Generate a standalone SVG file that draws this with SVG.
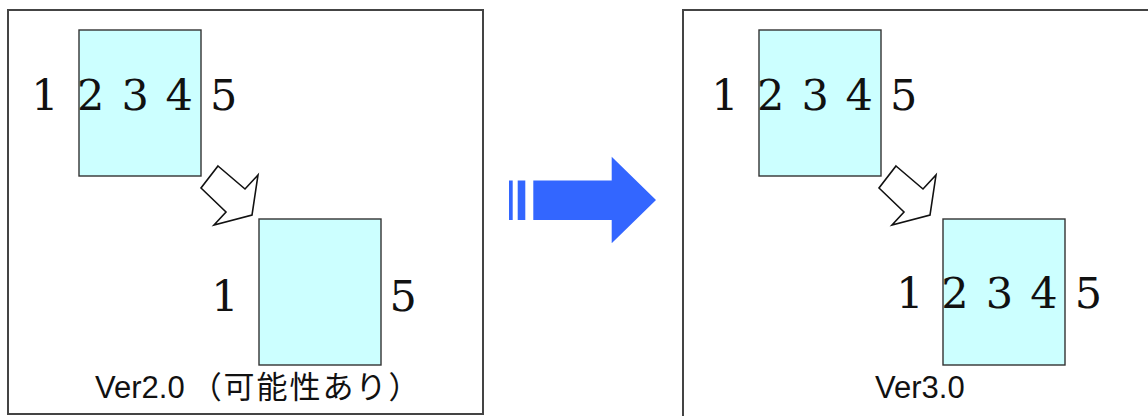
<svg xmlns="http://www.w3.org/2000/svg" width="1148" height="416" viewBox="0 0 1148 416">
<style>
.frame{fill:#fff;stroke:#444;stroke-width:2}
.page{fill:#CCFFFF;stroke:#333;stroke-width:1.4}
.num{font-family:"DejaVu Serif","Liberation Serif",serif;font-size:43px;fill:#111;text-anchor:middle}
.lbl{font-family:"Liberation Sans","Noto Sans CJK JP",sans-serif;font-size:31px;fill:#111}
.cjk{letter-spacing:2px}
.small{fill:#fff;stroke:#111;stroke-width:1.6;stroke-linejoin:miter}
.big{fill:#3366FF}
</style>
<defs>
<polygon id="smallArrow" class="small" points="218,166 245,189 258,175 252,215 214,225 226,212 201,188"/>
</defs>
<rect width="1148" height="416" fill="#fff"/>
<g id="panel-left">
<rect class="frame" x="8" y="10" width="475" height="404"/>
<g id="left-top-page"><rect class="page" x="79" y="30" width="122" height="146"/></g>
<text class="num" x="45 68 90.8 113 135.3 157 179.2 201 223.8" y="110">1 2 3 4 5</text>
<g id="left-bottom-page"><rect class="page" x="259" y="219" width="122" height="146"/></g>
<text class="num" x="225" y="311">1</text>
<text class="num" x="403.3" y="311">5</text>
<text class="lbl" x="95" y="398">Ver2.0<tspan class="cjk" dx="6">（可能性あり）</tspan></text>
</g>
<g id="panel-right">
<rect class="frame" x="683" y="10" width="470" height="420"/>
<g id="right-top-page"><rect class="page" x="759" y="30" width="122" height="146"/></g>
<text class="num" x="725 748 770.8 793 815.3 837 859.2 881 903.8" y="110">1 2 3 4 5</text>
<g id="right-bottom-page"><rect class="page" x="943" y="219" width="122" height="146"/></g>
<text class="num" x="910 932 955 977 999.5 1021 1044 1066 1088.5" y="308">1 2 3 4 5</text>
<text class="lbl" x="875" y="398">Ver3.0</text>
</g>
<g id="connectors">
<use href="#smallArrow"/>
<use href="#smallArrow" transform="translate(678,0)"/>
<g id="big-arrow" class="big">
<rect x="509" y="180.5" width="3.7" height="39.5"/>
<rect x="517.7" y="180.5" width="7.6" height="39.5"/>
<polygon points="533.3,180.5 611.7,180.5 611.7,156.7 656,200 611.7,243.3 611.7,220 533.3,220"/>
</g>
</g>
</svg>
